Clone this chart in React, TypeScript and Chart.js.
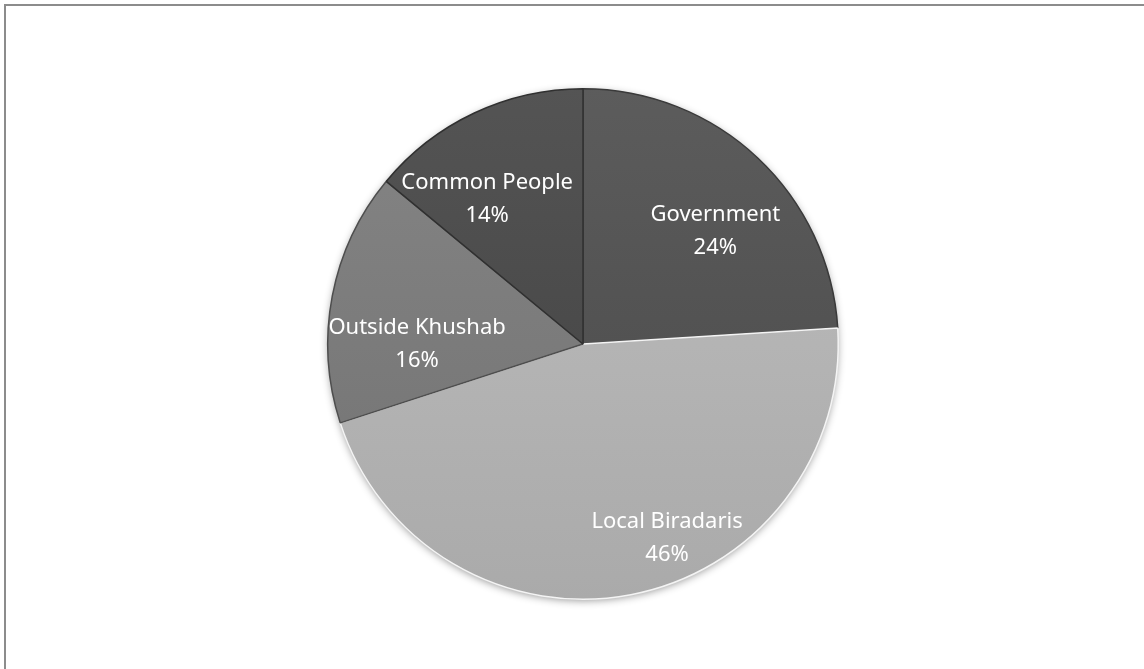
import React, { useEffect, useRef } from "react";
import { Chart, registerables } from "chart.js";

Chart.register(...registerables);

const categories = ["Government", "Local Biradaris", "Outside Khushab", "Common People"];
const shares = [24, 46, 16, 14];
const sliceColors = ["#525252", "#b4b4b4", "#7b7b7b", "#4a4a4a"];
const sliceBorders = ["#3a3a3a", "#f4f4f4", "#4e4e4e", "#303030"];
// label anchor inside each slice: fraction along the slice angle, fraction of radius
const labelAngleFrac = [0.575, 0.424, 0.3125, 0.335];
const labelRadiusFrac = [0.68, 0.83, 0.65, 0.68];

const FONT = "'Noto Sans', 'Open Sans', sans-serif";

const shadowPlugin = {
  id: "pieShadow",
  beforeDatasetsDraw(chart: any) {
    const meta = chart.getDatasetMeta(0);
    const arc = meta.data[0];
    if (!arc) return;
    const { x, y, outerRadius } = arc.getProps(["x", "y", "outerRadius"], true);
    const ctx = chart.ctx;
    ctx.save();
    ctx.shadowColor = "rgba(0,0,0,0.45)";
    ctx.shadowBlur = 8;
    ctx.shadowOffsetX = 0;
    ctx.shadowOffsetY = 2;
    ctx.fillStyle = "#777";
    ctx.beginPath();
    ctx.arc(x, y, outerRadius - 1, 0, Math.PI * 2);
    ctx.fill();
    ctx.restore();
  },
};

const labelPlugin = {
  id: "sliceLabels",
  afterDatasetsDraw(chart: any) {
    const meta = chart.getDatasetMeta(0);
    const ctx = chart.ctx;
    ctx.save();
    ctx.fillStyle = "#ffffff";
    ctx.font = `22px ${FONT}`;
    ctx.textAlign = "center";
    ctx.textBaseline = "middle";
    meta.data.forEach((arc: any, i: number) => {
      const { x, y, startAngle, endAngle, outerRadius } = arc.getProps(
        ["x", "y", "startAngle", "endAngle", "outerRadius"],
        true
      );
      const a = startAngle + (endAngle - startAngle) * labelAngleFrac[i];
      const r = outerRadius * labelRadiusFrac[i];
      const cx = x + Math.cos(a) * r;
      const cy = y + Math.sin(a) * r;
      ctx.fillText(categories[i], cx, cy - 16.5);
      ctx.fillText(`${shares[i]}%`, cx, cy + 16.5);
    });
    ctx.restore();
  },
};

export default function App() {
  const canvasRef = useRef<HTMLCanvasElement | null>(null);

  useEffect(() => {
    if (!canvasRef.current) return;
    const chart = new Chart(canvasRef.current, {
      type: "pie",
      data: {
        labels: categories,
        datasets: [
          {
            data: shares,
            backgroundColor: (c: any) => {
              const base = sliceColors[c.dataIndex];
              const area = c.chart.chartArea;
              if (!area) return base;
              const g = c.chart.ctx.createLinearGradient(0, area.top, 0, area.bottom);
              g.addColorStop(0, shade(base, 10));
              g.addColorStop(1, shade(base, -10));
              return g;
            },
            borderColor: sliceBorders,
            borderWidth: 1.5,
            hoverOffset: 0,
          },
        ],
      },
      options: {
        responsive: true,
        maintainAspectRatio: false,
        animation: false,
        rotation: 0,
        layout: { padding: { left: 327, right: 305, top: 87, bottom: 68 } },
        plugins: {
          legend: { display: false },
          tooltip: { enabled: false },
        },
      },
      plugins: [shadowPlugin, labelPlugin],
    } as any);
    return () => chart.destroy();
  }, []);

  return (
    <div style={{ position: "fixed", left: 0, top: 0, width: 1144, height: 669, background: "#fff", overflow: "hidden" }}>
      <div
        style={{
          position: "absolute",
          left: 4,
          top: 4,
          width: 1200,
          height: 720,
          border: "2px solid #8c8c8c",
          boxSizing: "border-box",
        }}
      />
      <canvas ref={canvasRef} style={{ position: "absolute", left: 0, top: 0, width: 1144, height: 669 }} />
    </div>
  );
}

function shade(hex: string, amt: number): string {
  const n = parseInt(hex.slice(1), 16);
  const clamp = (v: number) => Math.max(0, Math.min(255, v));
  const r = clamp((n >> 16) + amt);
  const g = clamp(((n >> 8) & 255) + amt);
  const b = clamp((n & 255) + amt);
  return `rgb(${r},${g},${b})`;
}
